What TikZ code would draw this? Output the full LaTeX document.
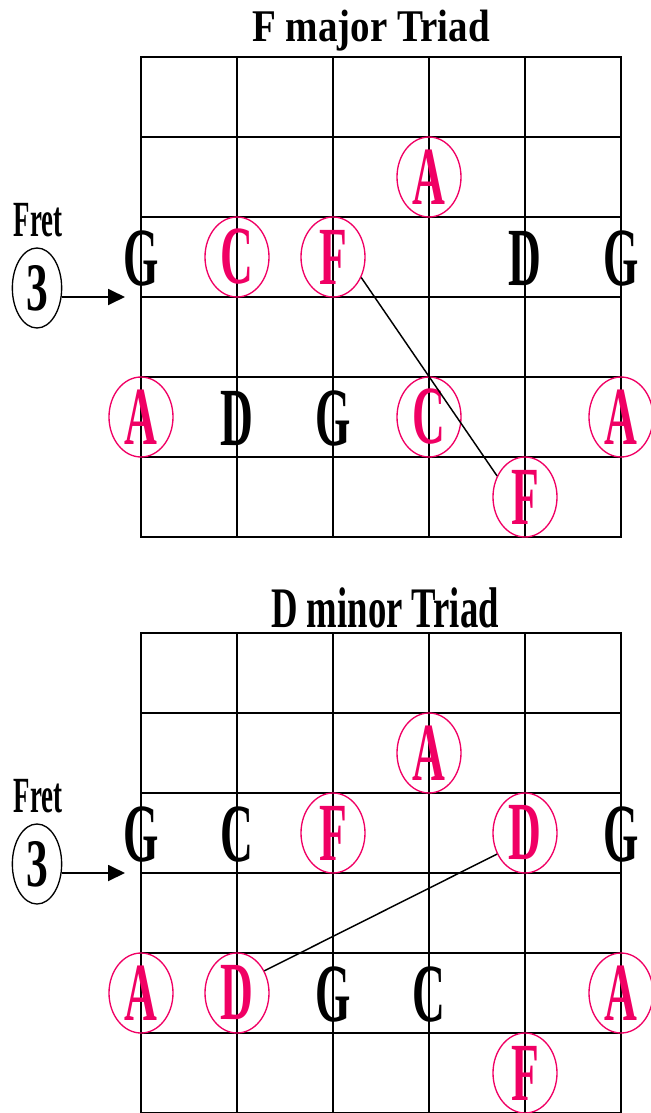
\documentclass[tikz,border=0pt]{standalone}
\usepackage{fontspec}
\usepackage{graphicx}
\setmainfont{Liberation Serif}
\newfontfamily\notefont{Liberation Serif}[FakeStretch=0.55]
\usetikzlibrary{arrows.meta, shapes.geometric}
\definecolor{triadred}{HTML}{F00064}

\begin{document}
\begin{tikzpicture}[
    x=0.75pt, y=-0.75pt,
    >={Triangle[length=12.75pt, width=12pt]},
    gridline/.style={line width=1.4pt, line cap=rect},
    note/.style={inner sep=0pt,
                 font={\notefont\bfseries\fontsize{62}{62}\selectfont}},
    rnote/.style={note, ellipse, draw=triadred, line width=1pt, text=triadred,
                  minimum width=48pt, minimum height=60pt},
    link/.style={line width=1.1pt},
    ttl/.style={inner sep=0pt, anchor=base, font=\bfseries},
    fretlbl/.style={inner sep=0pt, font={\bfseries\fontsize{38}{38}\selectfont}},
    fretnum/.style={ellipse, draw, line width=1pt, inner sep=0pt,
                    minimum width=37pt, minimum height=60pt,
                    font={\bfseries\fontsize{51}{51}\selectfont}},
    fretarr/.style={->, line width=1.4pt},
]

\useasboundingbox (0,0) rectangle (650,1113);

\def\gx{141}
\def\gy{57}
\def\cw{96}
\def\rh{80}

% -- grid, fret label and arrow: #1 y offset, #2 name prefix --
\newcommand{\fretboard}[2]{
    \begin{scope}[shift={(0,#1)}]
        \foreach \s in {0,...,5}
            \draw[gridline] (\gx+\s*\cw, \gy) -- ++(0, 6*\rh);
        \foreach \f in {0,...,6}
            \draw[gridline] (\gx, \gy+\f*\rh) -- ++(5*\cw, 0);
        \node[fretlbl] (#2fret) at (38, 220) {\scalebox{0.53}[1]{Fret}};
        \node[fretnum] (#2num) at (37, 288) {\scalebox{0.64}[1]{3}};
        \coordinate (#2tip) at (125, 297);
        \draw[fretarr] (#2num.east |- #2tip) -- (#2tip);
    \end{scope}
}

% ============ F major ============
\node[ttl, font={\bfseries\fontsize{34}{34}\selectfont}] (ttop) at (371, 42)
    {\scalebox{0.86}[1]{F major Triad}};
\fretboard{0}{t}

\node[rnote] (tA1) at (429, 177) {A};

\node[note]  (tG1) at (141, 259) {G};
\node[rnote] (tC1) at (237, 257) {C};
\node[rnote] (tF1) at (333, 257) {F};
\node[note]  (tD1) at (525, 259) {D};
\node[note]  (tG2) at (621, 259) {G};

\node[rnote] (tA2) at (141, 417) {A};
\node[note]  (tD2) at (237, 419) {D};
\node[note]  (tG3) at (333, 419) {G};
\node[rnote] (tC2) at (429, 417) {C};
\node[rnote] (tA3) at (621, 417) {A};

\node[rnote] (tF2) at (525, 497) {F};

\draw[link] (tF1.-36) -- (tF2.143);

% ============ D minor ============
\node[ttl, font={\bfseries\fontsize{43}{43}\selectfont}] (tbot) at (385, 627)
    {\scalebox{0.64}[1]{D minor Triad}};
\fretboard{576}{b}

\node[rnote] (bA1) at (429, 753) {A};

\node[note]  (bG1) at (141, 835) {G};
\node[note]  (bC1) at (237, 835) {C};
\node[rnote] (bF1) at (333, 833) {F};
\node[rnote] (bD1) at (525, 833) {D};
\node[note]  (bG2) at (621, 835) {G};

\node[rnote] (bA2) at (141, 993) {A};
\node[rnote] (bD2) at (237, 993) {D};
\node[note]  (bG3) at (333, 995) {G};
\node[note]  (bC2) at (429, 995) {C};
\node[rnote] (bA3) at (621, 993) {A};

\node[rnote] (bF2) at (525, 1073) {F};

\draw[link] (bD2.39) -- (bD1.217);

\end{tikzpicture}
\end{document}
